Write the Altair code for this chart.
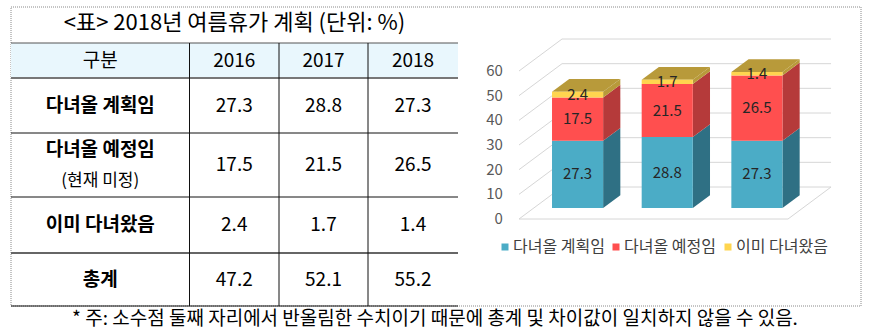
import altair as alt
import pandas as pd

# ---------------- data ----------------
years = ["2016", "2017", "2018"]
series = ["다녀올 계획임", "다녀올 예정임", "이미 다녀왔음"]
plan = [27.3, 28.8, 27.3]
scheduled = [17.5, 21.5, 26.5]
done = [2.4, 1.7, 1.4]
totals = [47.2, 52.1, 55.2]
y_ticks = [0, 10, 20, 30, 40, 50, 60]
title_text = "<표> 2018년 여름휴가 계획 (단위: %)"
header_label = "구분"
sub_label = "(현재 미정)"
total_label = "총계"
footnote = "* 주: 소수점 둘째 자리에서 반올림한 수치이기 때문에 총계 및 차이값이 일치하지 않을 수 있음."

# ---------------- styles / layout ----------------
FONT = "Noto Sans CJK KR"
front_colors = ["#4bacc6", "#ff4f4f", "#ffd54f"]
side_colors = ["#2f7084", "#b53a3a", "#b89a3a"]
top_color = "#b89a3a"
grid_color = "#d6d6d6"

W, H = 871, 332
PX = alt.Scale(domain=[0, W], range=[0, W], nice=False, zero=False)
PY = alt.Scale(domain=[0, H], range=[0, H], nice=False, zero=False)
XS = alt.Scale(domain=[0, 3], range=[519, 788], nice=False, zero=False)
YS = alt.Scale(domain=[0, 60], range=[219, 71], nice=False, zero=False)

# table layout
T_LEFT, T_RIGHT = 11, 458
col_edges = [T_LEFT, 189.5, 279, 368, T_RIGHT]
row_edges = [43, 78, 133, 197, 253, 306]
hline_style = [("#555555", 1), ("#777777", 2), ("#111111", 1), ("#111111", 1), ("#666666", 2), ("#111111", 1)]

# 3D projection (depth offsets in data units)
DX, DY = 0.48, 12.97
D0, D1 = 0.34, 0.74
HW = 0.285

layers = []

# ---------- frame: dotted border ----------
border = pd.DataFrame([{"x": T_LEFT, "x2": 861, "y": 7, "y2": row_edges[-1]}])
layers.append(
    alt.Chart(border).mark_rect(fill=None, stroke="#8a8a8a", strokeDash=[1, 1], strokeWidth=1).encode(
        x=alt.X("x:Q", scale=PX, axis=None), x2="x2:Q",
        y=alt.Y("y:Q", scale=PY, axis=None), y2="y2:Q")
)

# ---------- header background ----------
hdr = pd.DataFrame([{"x": T_LEFT, "x2": T_RIGHT, "y": row_edges[0], "y2": row_edges[1]}])
layers.append(
    alt.Chart(hdr).mark_rect(fill="#e9f7fd", stroke=None).encode(
        x=alt.X("x:Q", scale=PX, axis=None), x2="x2:Q",
        y=alt.Y("y:Q", scale=PY, axis=None), y2="y2:Q")
)

# ---------- table lines ----------
hl = pd.DataFrame([{"x": T_LEFT, "x2": T_RIGHT, "y": r, "c": s[0], "w": s[1]}
                   for r, s in zip(row_edges, hline_style)])
layers.append(
    alt.Chart(hl).mark_rule().encode(
        x=alt.X("x:Q", scale=PX, axis=None), x2="x2:Q",
        y=alt.Y("y:Q", scale=PY, axis=None),
        color=alt.Color("c:N", scale=None),
        strokeWidth=alt.StrokeWidth("w:Q", scale=None))
)
vl = pd.DataFrame([{"x": c, "y": row_edges[0], "y2": row_edges[-1]} for c in col_edges[1:4]])
layers.append(
    alt.Chart(vl).mark_rule(color="#111111", strokeWidth=1).encode(
        x=alt.X("x:Q", scale=PX, axis=None),
        y=alt.Y("y:Q", scale=PY, axis=None), y2="y2:Q")
)


def text_layer(rows, size, weight="normal", color="#000000", align="center"):
    df = pd.DataFrame(rows)
    return alt.Chart(df).mark_text(font=FONT, fontSize=size, fontWeight=weight, color=color,
                                   align=align, baseline="middle").encode(
        x=alt.X("x:Q", scale=PX, axis=None),
        y=alt.Y("y:Q", scale=PY, axis=None),
        text="t:N")


col_centers = [(col_edges[i] + col_edges[i + 1]) / 2 for i in range(4)]
row_centers = [(row_edges[i] + row_edges[i + 1]) / 2 for i in range(5)]

# title
layers.append(text_layer([{"x": (T_LEFT + T_RIGHT) / 2, "y": 23, "t": title_text}], 22))
# header
layers.append(text_layer([{"x": col_centers[0], "y": row_centers[0], "t": header_label}], 19))
layers.append(text_layer([{"x": col_centers[j + 1], "y": row_centers[0], "t": y} for j, y in enumerate(years)], 19))
# row labels (bold)
bold_rows = [
    {"x": col_centers[0], "y": row_centers[1], "t": series[0]},
    {"x": col_centers[0], "y": row_centers[2] - 15, "t": series[1]},
    {"x": col_centers[0], "y": row_centers[3], "t": series[2]},
    {"x": col_centers[0], "y": row_centers[4], "t": total_label},
]
layers.append(text_layer(bold_rows, 19, weight="bold"))
layers.append(text_layer([{"x": col_centers[0], "y": row_centers[2] + 16, "t": sub_label}], 17))
# values
val_rows = []
for r, arr in enumerate([plan, scheduled, done, totals]):
    for j, v in enumerate(arr):
        val_rows.append({"x": col_centers[j + 1], "y": row_centers[r + 1], "t": f"{v:.1f}"})
layers.append(text_layer(val_rows, 19))
# footnote
layers.append(text_layer([{"x": 435, "y": 319, "t": footnote}], 19))

# ---------- legend ----------
leg_x = [505, 616, 728]
leg = pd.DataFrame([{"x": lx, "y": 247, "c": front_colors[k]} for k, lx in enumerate(leg_x)])
layers.append(
    alt.Chart(leg).mark_point(shape="square", filled=True, size=49, opacity=1).encode(
        x=alt.X("x:Q", scale=PX, axis=None),
        y=alt.Y("y:Q", scale=PY, axis=None),
        color=alt.Color("c:N", scale=None))
)
layers.append(text_layer([{"x": lx + 8, "y": 247, "t": series[k]} for k, lx in enumerate(leg_x)],
                         16, color="#404040", align="left"))

# ---------- 3D chart: gridlines ----------
grid_rows = []
for v in y_ticks:
    for p, (gx, gy) in enumerate([(0, v), (DX, v + DY), (3 + DX, v + DY)]):
        grid_rows.append({"g": f"g{v}", "p": p, "x": gx, "y": gy})
for p, (gx, gy) in enumerate([(0, 0), (3, 0), (3 + DX, DY)]):
    grid_rows.append({"g": "floor", "p": p, "x": gx, "y": gy})
layers.append(
    alt.Chart(pd.DataFrame(grid_rows)).mark_line(color=grid_color, strokeWidth=1).encode(
        x=alt.X("x:Q", scale=XS, axis=None),
        y=alt.Y("y:Q", scale=YS, axis=None),
        detail="g:N", order="p:Q")
)

# ---------- 3D bars ----------
front_rows, side_rows, top_rows, label_rows = [], [], [], []
for i in range(3):
    c = i + 0.49
    vals = [plan[i], scheduled[i], done[i]]
    lo = 0.0
    for k, v in enumerate(vals):
        hi = lo + v
        front_rows.append({"x": c - HW + DX * D0, "x2": c + HW + DX * D0,
                           "y": lo + DY * D0, "y2": hi + DY * D0, "c": front_colors[k]})
        for d in (D0, D1):
            side_rows.append({"id": f"s{i}{k}", "x": c + HW + DX * d,
                              "y": hi + DY * d, "y2": lo + DY * d, "c": side_colors[k]})
        label_rows.append({"x": c + DX * D0, "y": (lo + hi) / 2 + DY * D0, "t": f"{v:.1f}"})
        lo = hi
    for d in (D0, D1):
        top_rows.append({"id": f"t{i}", "y": lo + DY * d, "x": c - HW + DX * d, "x2": c + HW + DX * d})

layers.append(
    alt.Chart(pd.DataFrame(side_rows)).mark_area(orient="vertical", opacity=1).encode(
        x=alt.X("x:Q", scale=XS, axis=None),
        y=alt.Y("y:Q", scale=YS, axis=None), y2="y2:Q",
        color=alt.Color("c:N", scale=None), detail="id:N")
)
layers.append(
    alt.Chart(pd.DataFrame(top_rows)).mark_area(orient="horizontal", opacity=1, color=top_color).encode(
        y=alt.Y("y:Q", scale=YS, axis=None),
        x=alt.X("x:Q", scale=XS, axis=None), x2="x2:Q",
        detail="id:N")
)
layers.append(
    alt.Chart(pd.DataFrame(front_rows)).mark_rect(opacity=1).encode(
        x=alt.X("x:Q", scale=XS, axis=None), x2="x2:Q",
        y=alt.Y("y:Q", scale=YS, axis=None), y2="y2:Q",
        color=alt.Color("c:N", scale=None))
)
layers.append(
    alt.Chart(pd.DataFrame(label_rows)).mark_text(font=FONT, fontSize=15, color="#262626",
                                                  align="center", baseline="middle").encode(
        x=alt.X("x:Q", scale=XS, axis=None),
        y=alt.Y("y:Q", scale=YS, axis=None),
        text="t:N")
)
# y tick labels
layers.append(
    alt.Chart(pd.DataFrame({"v": y_ticks, "x": [-0.18] * len(y_ticks)})).mark_text(
        font=FONT, fontSize=15, color="#595959", align="right", baseline="middle").encode(
        x=alt.X("x:Q", scale=XS, axis=None),
        y=alt.Y("v:Q", scale=YS, axis=None),
        text="v:Q")
)

chart = alt.layer(*layers).resolve_scale(x="independent", y="independent").properties(
    width=W, height=H, autosize=alt.AutoSizeParams(type="none"), padding=0,
    background="#ffffff"
).configure_view(stroke=None)

chart.save("out.html", embed_options={"renderer": "svg", "actions": False})
